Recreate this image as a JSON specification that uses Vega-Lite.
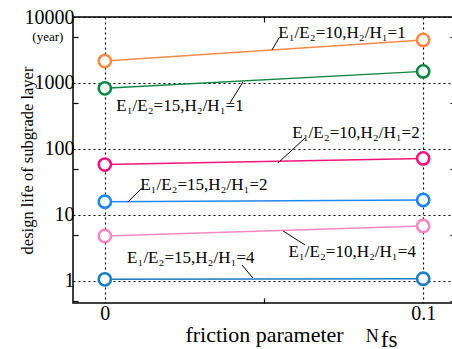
{
  "$schema": "https://vega.github.io/schema/vega-lite/v6.json",
  "width": 382,
  "height": 286,
  "autosize": {"type": "none"},
  "padding": {"left": 73, "top": 17, "right": 0, "bottom": 46},
  "background": "white",
  "config": {
    "font": "Liberation Serif",
    "view": {"stroke": "black", "strokeWidth": 1.5},
    "axis": {"labelFont": "Liberation Serif", "titleFont": "Liberation Serif", "labelColor": "black", "titleColor": "black", "titleFontWeight": "normal"}
  },
  "datasets": {
    "pts": [
      {"s": "a", "x": 0, "y": 2150},
      {"s": "a", "x": 0.1, "y": 4500},
      {"s": "b", "x": 0, "y": 830},
      {"s": "b", "x": 0.1, "y": 1500},
      {"s": "c", "x": 0, "y": 58},
      {"s": "c", "x": 0.1, "y": 72},
      {"s": "d", "x": 0, "y": 15.9},
      {"s": "d", "x": 0.1, "y": 16.9},
      {"s": "e", "x": 0, "y": 4.8},
      {"s": "e", "x": 0.1, "y": 6.8},
      {"s": "f", "x": 0, "y": 1.06},
      {"s": "f", "x": 0.1, "y": 1.08}
    ],
    "labels": [
      {"t": "E₁/E₂=10,H₂/H₁=1", "x": 0.0745, "y": 5723},
      {"t": "E₁/E₂=15,H₂/H₁=1", "x": 0.0236, "y": 448},
      {"t": "E₁/E₂=10,H₂/H₁=2", "x": 0.0789, "y": 175},
      {"t": "E₁/E₂=15,H₂/H₁=2", "x": 0.0311, "y": 28.5},
      {"t": "E₁/E₂=10,H₂/H₁=4", "x": 0.0777, "y": 2.75},
      {"t": "E₁/E₂=15,H₂/H₁=4", "x": 0.027, "y": 2.23}
    ],
    "leaders": [
      {"x": 0.0525, "y": 3162, "x2": 0.0547, "y2": 4807},
      {"x": 0.0434, "y": 1035, "x2": 0.0393, "y2": 498},
      {"x": 0.0544, "y": 61.4, "x2": 0.0629, "y2": 146.8},
      {"x": 0.00723, "y": 15.7, "x2": 0.01164, "y2": 25.6},
      {"x": 0.056, "y": 5.72, "x2": 0.0629, "y2": 3.51},
      {"x": 0.0465, "y": 1.11, "x2": 0.0431, "y2": 1.746}
    ],
    "extra": [
      {"t": "(year)", "x": -0.0179, "y": 4977, "k": "small"},
      {"t": "N", "x": 0.084, "y": 0.14, "k": "big"},
      {"t": "fs", "x": 0.0893, "y": 0.128, "k": "sub"}
    ]
  },
  "resolve": {"axis": {"x": "independent", "y": "independent"}},
  "layer": [
    {
      "data": {"name": "pts"},
      "mark": {"type": "line", "strokeWidth": 1.5},
      "encoding": {
        "x": {
          "field": "x", "type": "quantitative",
          "scale": {"domain": [-0.01, 0.11], "nice": false, "zero": false},
          "axis": {
            "values": [0, 0.05, 0.1],
            "labelExpr": "abs(datum.value-0.05)<0.001 ? '' : format(datum.value, '~g')",
            "labelFontSize": 20,
            "labelPadding": 5,
            "domain": false,
            "grid": true,
            "gridColor": "black",
            "gridDash": [2, 3],
            "gridWidth": 1.2,
            "gridOpacity": {"condition": {"test": "abs(datum.value-0.05)<0.001", "value": 0}, "value": 1},
            "tickColor": "black",
            "tickSize": -5,
            "tickWidth": 1.2,
            "tickOpacity": {"condition": {"test": "abs(datum.value-0.05)<0.001", "value": 1}, "value": 0},
            "title": "friction parameter",
            "titleFont": "Liberation Serif",
            "titleFontSize": 22,
            "titlePadding": 1
          }
        },
        "y": {
          "field": "y", "type": "quantitative",
          "scale": {"type": "log", "domain": [0.464, 10000], "nice": false},
          "axis": {
            "values": [0.5, 1, 5, 10, 50, 100, 500, 1000, 5000, 10000],
            "labelExpr": "indexof([1,10,100,1000,10000], datum.value) >= 0 ? format(datum.value, 'd') : ''",
            "labelFontSize": 20,
            "labelPadding": 4,
            "domain": false,
            "grid": true,
            "gridColor": "black",
            "gridDash": [2, 3],
            "gridWidth": 1.2,
            "gridOpacity": {"condition": {"test": "indexof([1,10,100,1000,10000], datum.value) >= 0", "value": 1}, "value": 0},
            "tickColor": "black",
            "tickSize": -5,
            "tickWidth": 1.2,
            "tickOpacity": {"condition": {"test": "indexof([1,10,100,1000,10000], datum.value) >= 0", "value": 0}, "value": 1},
            "title": "design life of subgrade layer",
            "titleFont": "Liberation Serif",
            "titleFontSize": 16.5,
            "titlePadding": -11
          }
        },
        "stroke": {
          "field": "s", "type": "nominal", "legend": null,
          "scale": {"domain": ["a", "b", "c", "d", "e", "f"], "range": ["#fb8a45", "#0e8744", "#f2147d", "#1f87f0", "#f789c0", "#1a7dc2"]}
        },
        "detail": {"field": "s"}
      }
    },
    {
      "data": {"name": "pts"},
      "mark": {"type": "point", "shape": "circle", "filled": false, "fill": "white", "fillOpacity": 1, "opacity": 1, "size": 150, "strokeWidth": 2.6},
      "encoding": {
        "x": {
          "field": "x", "type": "quantitative",
          "axis": {
            "orient": "top", "values": [0.05], "labels": false, "grid": false, "domain": false,
            "tickColor": "black", "tickSize": -5, "tickWidth": 1.2, "title": null
          }
        },
        "y": {
          "field": "y", "type": "quantitative",
          "axis": {
            "orient": "right", "values": [0.5, 5, 50, 500, 5000], "labels": false, "grid": false, "domain": false,
            "tickColor": "black", "tickSize": -5, "tickWidth": 1.2, "title": null
          }
        },
        "stroke": {"field": "s", "type": "nominal", "legend": null}
      }
    },
    {
      "data": {"name": "leaders"},
      "mark": {"type": "rule", "color": "black", "strokeWidth": 1},
      "encoding": {
        "x": {"field": "x", "type": "quantitative", "axis": null},
        "y": {"field": "y", "type": "quantitative", "axis": null},
        "x2": {"field": "x2"},
        "y2": {"field": "y2"}
      }
    },
    {
      "data": {"name": "labels"},
      "mark": {"type": "text", "font": "Liberation Serif", "fontSize": 17, "align": "center", "baseline": "middle", "color": "black"},
      "encoding": {
        "x": {"field": "x", "type": "quantitative", "axis": null},
        "y": {"field": "y", "type": "quantitative", "axis": null},
        "text": {"field": "t"}
      }
    },
    {
      "data": {"name": "extra"},
      "mark": {"type": "text", "font": "Liberation Serif", "align": "center", "baseline": "middle", "color": "black", "clip": false},
      "encoding": {
        "x": {"field": "x", "type": "quantitative", "axis": null},
        "y": {"field": "y", "type": "quantitative", "axis": null},
        "text": {"field": "t"},
        "size": {"field": "k", "type": "nominal", "legend": null, "scale": {"domain": ["small", "big", "sub"], "range": [13, 23, 12]}}
      }
    }
  ]
}
